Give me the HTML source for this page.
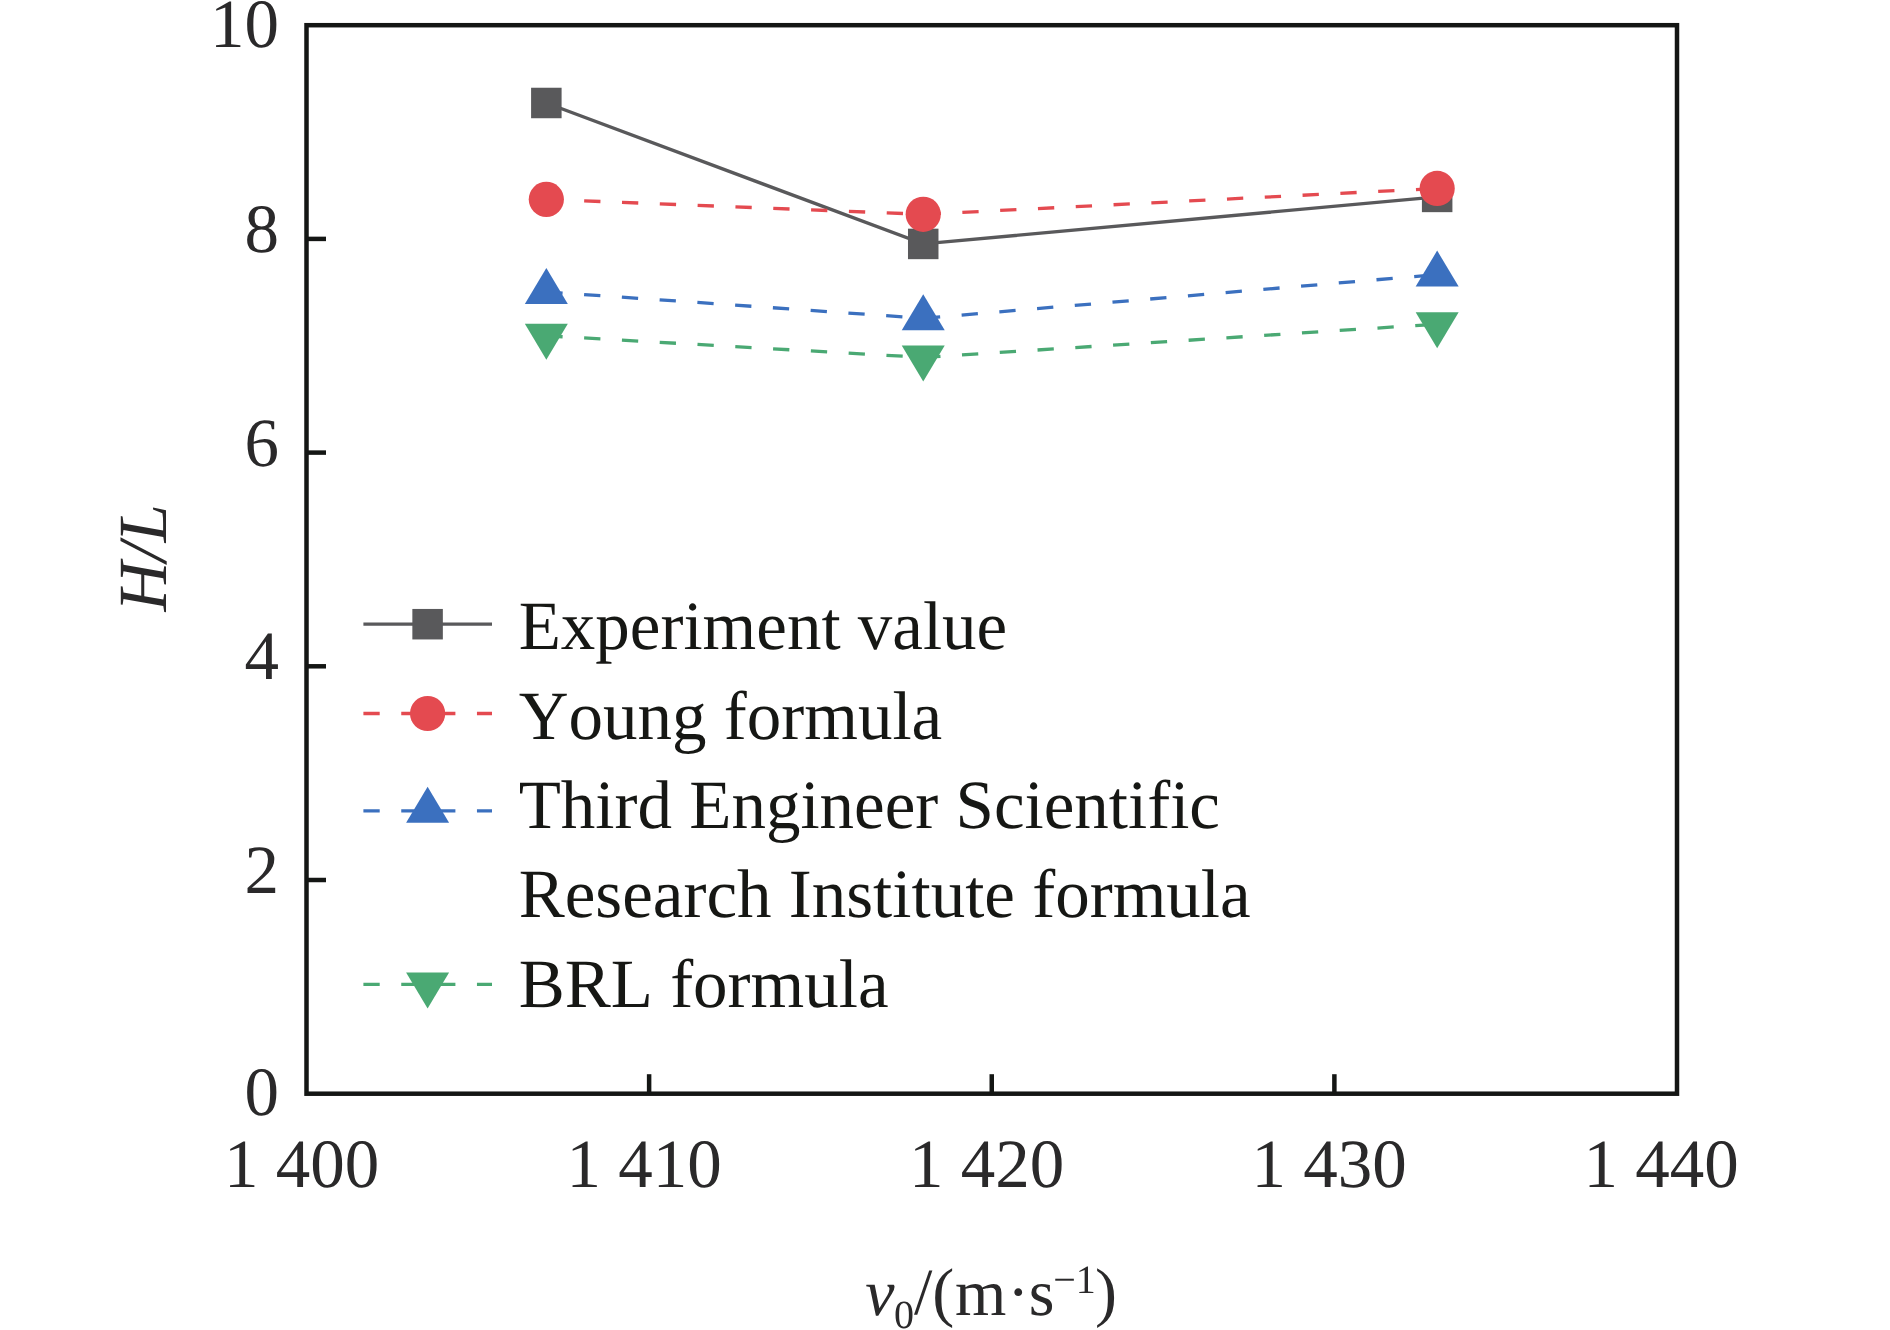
<!DOCTYPE html>
<html><head><meta charset="utf-8"><style>
html,body{margin:0;padding:0;background:#fff;width:1890px;height:1330px;overflow:hidden;position:relative;font-family:"Liberation Serif",serif;font-kerning:none;}
text{font-kerning:none;text-rendering:geometricPrecision;}
</style></head><body>
<svg width="1890" height="1330" viewBox="0 0 1890 1330" style="position:absolute;left:0;top:0;will-change:transform">
<polyline points="546.34,102.99 923.23,243.92 1437.16,196.91" fill="none" stroke="#59595b" stroke-width="3.3"/>
<polyline points="546.34,199.37 923.23,214.32 1437.16,188.47" fill="none" stroke="#e44a50" stroke-width="3.3" stroke-dasharray="16.3 21.55"/>
<polyline points="546.34,291.90 923.23,318.29 1437.16,274.59" fill="none" stroke="#3b70bf" stroke-width="3.3" stroke-dasharray="16.3 21.55"/>
<polyline points="546.34,335.81 923.23,357.40 1437.16,324.17" fill="none" stroke="#4aa973" stroke-width="3.3" stroke-dasharray="16.3 21.55"/>
<rect x="531.09" y="87.74" width="30.5" height="30.5" fill="#59595b"/>
<rect x="907.98" y="228.67" width="30.5" height="30.5" fill="#59595b"/>
<rect x="1421.91" y="181.66" width="30.5" height="30.5" fill="#59595b"/>
<circle cx="546.34" cy="199.37" r="17.6" fill="#e44a50"/>
<circle cx="923.23" cy="214.32" r="17.6" fill="#e44a50"/>
<circle cx="1437.16" cy="188.47" r="17.6" fill="#e44a50"/>
<path d="M546.34 267.90L567.84 303.90L524.84 303.90Z" fill="#3b70bf"/>
<path d="M923.23 294.29L944.73 330.29L901.73 330.29Z" fill="#3b70bf"/>
<path d="M1437.16 250.59L1458.66 286.59L1415.66 286.59Z" fill="#3b70bf"/>
<path d="M546.34 359.81L567.84 323.81L524.84 323.81Z" fill="#4aa973"/>
<path d="M923.23 381.40L944.73 345.40L901.73 345.40Z" fill="#4aa973"/>
<path d="M1437.16 348.17L1458.66 312.17L1415.66 312.17Z" fill="#4aa973"/>
<rect x="306.5" y="25.2" width="1370.5" height="1068.5" fill="none" stroke="#141614" stroke-width="4.5" stroke-linejoin="miter"/>
<line x1="306.5" y1="880.00" x2="326.0" y2="880.00" stroke="#141614" stroke-width="4.5"/>
<line x1="306.5" y1="666.30" x2="326.0" y2="666.30" stroke="#141614" stroke-width="4.5"/>
<line x1="306.5" y1="452.60" x2="326.0" y2="452.60" stroke="#141614" stroke-width="4.5"/>
<line x1="306.5" y1="238.90" x2="326.0" y2="238.90" stroke="#141614" stroke-width="4.5"/>
<line x1="649.12" y1="1093.7" x2="649.12" y2="1074.2" stroke="#141614" stroke-width="4.5"/>
<line x1="991.75" y1="1093.7" x2="991.75" y2="1074.2" stroke="#141614" stroke-width="4.5"/>
<line x1="1334.38" y1="1093.7" x2="1334.38" y2="1074.2" stroke="#141614" stroke-width="4.5"/>
<text x="279" y="1114.5" font-family="Liberation Serif" font-size="69" fill="#2a292a" text-anchor="end">0</text>
<text x="279" y="892.9" font-family="Liberation Serif" font-size="69" fill="#2a292a" text-anchor="end">2</text>
<text x="279" y="678.7" font-family="Liberation Serif" font-size="69" fill="#2a292a" text-anchor="end">4</text>
<text x="279" y="465.8" font-family="Liberation Serif" font-size="69" fill="#2a292a" text-anchor="end">6</text>
<text x="279" y="251.8" font-family="Liberation Serif" font-size="69" fill="#2a292a" text-anchor="end">8</text>
<text x="279" y="46.8" font-family="Liberation Serif" font-size="69" fill="#2a292a" text-anchor="end">10</text>
<text x="301.5" y="1187.3" font-family="Liberation Serif" font-size="69" fill="#2a292a" text-anchor="middle">1 400</text>
<text x="644.2" y="1187.3" font-family="Liberation Serif" font-size="69" fill="#2a292a" text-anchor="middle">1 410</text>
<text x="986.6" y="1187.3" font-family="Liberation Serif" font-size="69" fill="#2a292a" text-anchor="middle">1 420</text>
<text x="1329.0" y="1187.3" font-family="Liberation Serif" font-size="69" fill="#2a292a" text-anchor="middle">1 430</text>
<text x="1661.1" y="1187.3" font-family="Liberation Serif" font-size="69" fill="#2a292a" text-anchor="middle">1 440</text>
<line x1="363.4" y1="624.2" x2="492.0" y2="624.2" stroke="#59595b" stroke-width="3.3"/>
<rect x="412.35" y="608.95" width="30.5" height="30.5" fill="#59595b"/>
<line x1="363.4" y1="713.5" x2="492.0" y2="713.5" stroke="#e44a50" stroke-width="3.3" stroke-dasharray="16.3 21.55"/>
<circle cx="427.60" cy="713.50" r="17.6" fill="#e44a50"/>
<line x1="363.4" y1="810.8" x2="492.0" y2="810.8" stroke="#3b70bf" stroke-width="3.3" stroke-dasharray="16.3 21.55"/>
<path d="M427.60 786.80L449.10 822.80L406.10 822.80Z" fill="#3b70bf"/>
<line x1="363.4" y1="984.4" x2="492.0" y2="984.4" stroke="#4aa973" stroke-width="3.3" stroke-dasharray="16.3 21.55"/>
<path d="M427.60 1008.40L449.10 972.40L406.10 972.40Z" fill="#4aa973"/>
<text x="518.7" y="649.2" font-family="Liberation Serif" font-size="69" fill="#161714">Experiment value</text>
<text x="518.7" y="738.5" font-family="Liberation Serif" font-size="69" fill="#161714">Young formula</text>
<text x="518.7" y="828.0" font-family="Liberation Serif" font-size="69" fill="#161714">Third Engineer Scientific</text>
<text x="518.7" y="916.8" font-family="Liberation Serif" font-size="69" fill="#161714">Research Institute formula</text>
<text x="518.7" y="1006.5" font-family="Liberation Serif" font-size="69" fill="#161714">BRL formula</text>
<text transform="translate(166,557.8) rotate(-90)" font-family="Liberation Serif" font-size="69" font-style="italic" fill="#2a292a" text-anchor="middle">H/L</text>
<text x="865.2" y="1314.9" font-family="Liberation Serif" font-size="66" font-style="italic" fill="#2a292a">v</text>
<text x="894.1" y="1327.7" font-family="Liberation Serif" font-size="40" font-style="normal" fill="#2a292a">0</text>
<text x="914.1" y="1313.8" font-family="Liberation Serif" font-size="66" font-style="normal" fill="#2a292a">/</text>
<text x="932.2" y="1314.25" font-family="Liberation Serif" font-size="66" font-style="normal" fill="#2a292a">(</text>
<text x="954.9" y="1314.9" font-family="Liberation Serif" font-size="66" font-style="normal" fill="#2a292a">m</text>
<text x="1007.3" y="1314.25" font-family="Liberation Serif" font-size="66" font-style="normal" fill="#2a292a">·</text>
<text x="1028.7" y="1315.0" font-family="Liberation Serif" font-size="66" font-style="normal" fill="#2a292a">s</text>
<text x="1053.2" y="1293.1" font-family="Liberation Serif" font-size="40" font-style="normal" fill="#2a292a">−</text>
<text x="1075.8" y="1293.05" font-family="Liberation Serif" font-size="40" font-style="normal" fill="#2a292a">1</text>
<text x="1094.9" y="1314.3" font-family="Liberation Serif" font-size="66" font-style="normal" fill="#2a292a">)</text>
</svg>
</body></html>
